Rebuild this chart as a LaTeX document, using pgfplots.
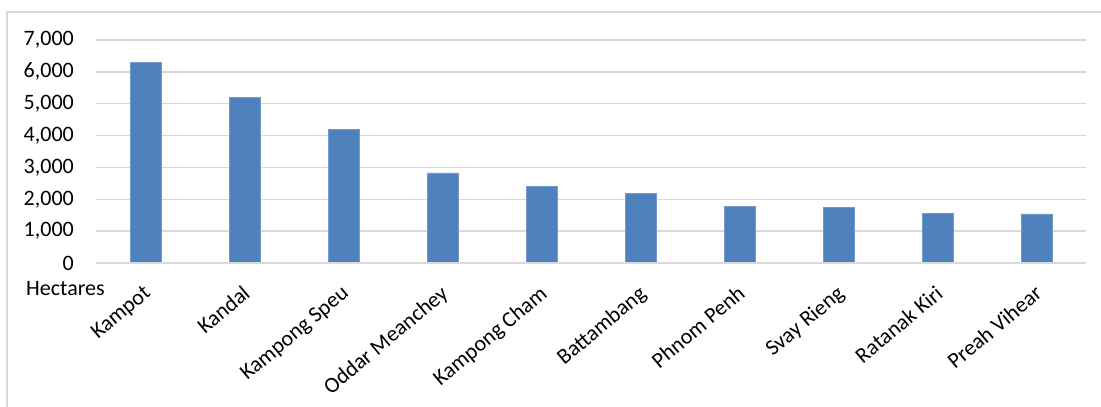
\documentclass[border=0pt]{standalone}
\usepackage{pgfplots}
\pgfplotsset{compat=1.18}
\usepackage{fontspec}
\setmainfont{Carlito}
\definecolor{barblue}{HTML}{4F81BD}
\definecolor{gridgray}{HTML}{D9D9D9}
\begin{document}
\begin{tikzpicture}
\fontsize{22bp}{26bp}\selectfont
\draw[gridgray, line width=1.2bp] (7bp,-30bp) rectangle (1104bp,395bp);
\begin{axis}[
  at={(96bp,144bp)}, anchor=south west,
  scale only axis, width=990bp, height=223bp,
  xmin=-0.5, xmax=9.5, ymin=0, ymax=7000,
  ytick={0,1000,...,7000},
  xtick={0,...,9},
  xticklabels={Kampot,Kandal,Kampong Speu,Oddar Meanchey,Kampong Cham,Battambang,Phnom Penh,Svay Rieng,Ratanak Kiri,Preah Vihear},
  axis line style={draw=none},
  major tick length=0pt,
  ymajorgrids, grid style={gridgray, line width=1.5bp},
  /pgf/number format/.cd, 1000 sep={,}, assume math mode=true,
  /pgfplots/.cd,
  ticklabel style={font=\fontsize{22bp}{26bp}\selectfont},
  yticklabel style={anchor=east, inner sep=0pt, xshift=-22bp},
  xticklabel style={yshift=-21bp, xshift=-3bp, rotate=40, anchor=north east, inner sep=0pt},
  ybar, bar width=31bp,
  clip=false,
]
\addplot[fill=barblue, draw=barblue!80!white, line width=0.6bp] coordinates {
(0,6300) (1,5190) (2,4200) (3,2830) (4,2405) (5,2190) (6,1765) (7,1745) (8,1560) (9,1540)};
\draw[gridgray, line width=1.8bp] (rel axis cs:0,0) -- (rel axis cs:1,0);
\end{axis}
\node[anchor=base west, inner sep=0pt] at (26bp,111bp) {Hectares};
\pgfresetboundingbox
\path (0,0) rectangle (1101bp,407bp);
\end{tikzpicture}
\end{document}
